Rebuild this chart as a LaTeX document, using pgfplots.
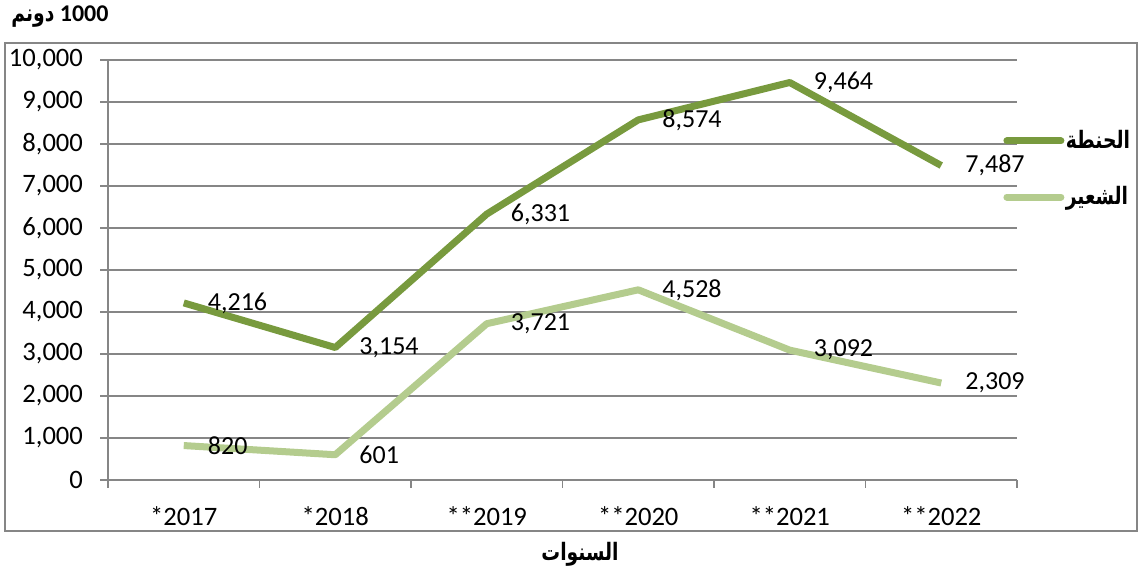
\documentclass[border=0pt]{standalone}
\usepackage{fontspec}
\usepackage{pgfplots}
\pgfplotsset{compat=1.18}
\setmainfont{Carlito}
\newfontfamily\arabicfont[Script=Arabic]{DejaVu Sans}
\newfontfamily\arabicnarrow[Script=Arabic, FakeStretch=0.78]{DejaVu Sans}
\TeXXeTstate=1
\definecolor{wheat}{RGB}{120,154,62}
\definecolor{barley}{RGB}{180,204,142}
\definecolor{axgray}{RGB}{134,134,134}
\begin{document}
\begin{tikzpicture}
\useasboundingbox (0pt,0pt) rectangle (572pt,286pt);
\draw[axgray, line width=1pt] (2.5pt,20.5pt) rectangle (568.5pt,264.5pt);
\node[font=\fontsize{12}{14}\selectfont\bfseries, inner sep=0pt] at (30pt,277.5pt) {{\arabicnarrow\beginR دونم\endR} 1000};
\node[font=\fontsize{12}{14}\selectfont\bfseries, inner sep=0pt] at (290pt,9pt) {\arabicnarrow\beginR السنوات\endR};
\begin{axis}[
  at={(54pt,46pt)}, anchor=south west,
  scale only axis, width=454.5pt, height=210pt,
  xmin=-0.5, xmax=5.5, ymin=0, ymax=10000,
  axis x line*=bottom, axis y line*=left,
  axis line style={axgray, line width=0.75pt},
  xtick={0,1,2,3,4,5},
  xticklabels={*2017,*2018,**2019,**2020,**2021,**2022},
  minor xtick={-0.5,0.5,1.5,2.5,3.5,4.5,5.5},
  major x tick style={draw=none},
  ytick={0,1000,...,10000},
  scaled y ticks=false,
  tick align=outside, major tick length=4pt, minor tick length=4pt,
  tick style={axgray, line width=0.75pt},
  ymajorgrids, grid style={axgray, line width=0.75pt},
  /pgf/number format/.cd, 1000 sep={,}, assume math mode=true, /pgfplots/.cd,
  tick label style={font=\fontsize{13.3}{15}\selectfont, text=black},
  yticklabel style={xshift=-5pt},
  xticklabel style={yshift=-6pt},
  legend style={at={(0.978,0.7405)}, anchor=west, draw=none, fill=none,
    font=\fontsize{12}{14}\selectfont\bfseries\arabicnarrow, row sep=16pt,
    nodes={inner sep=0.7pt}},
  legend cell align=left,
  legend image code/.code={\draw[#1, line cap=round] (0pt,0pt) -- (27pt,0pt);},
  every node near coord/.append style={anchor=west, xshift=7pt, text=black, font=\fontsize{13}{15}\selectfont},
]
\addplot[wheat, line width=3.5pt, line join=round, nodes near coords] coordinates {
 (0,4216) (1,3154) (2,6331) (3,8574) (4,9464) (5,7487)};
\addlegendentry{\beginR الحنطة\endR}
\addplot[barley, line width=3.5pt, line join=round, nodes near coords] coordinates {
 (0,820) (1,601) (2,3721) (3,4528) (4,3092) (5,2309)};
\addlegendentry{\beginR الشعير\endR}
\end{axis}
\end{tikzpicture}
\end{document}
